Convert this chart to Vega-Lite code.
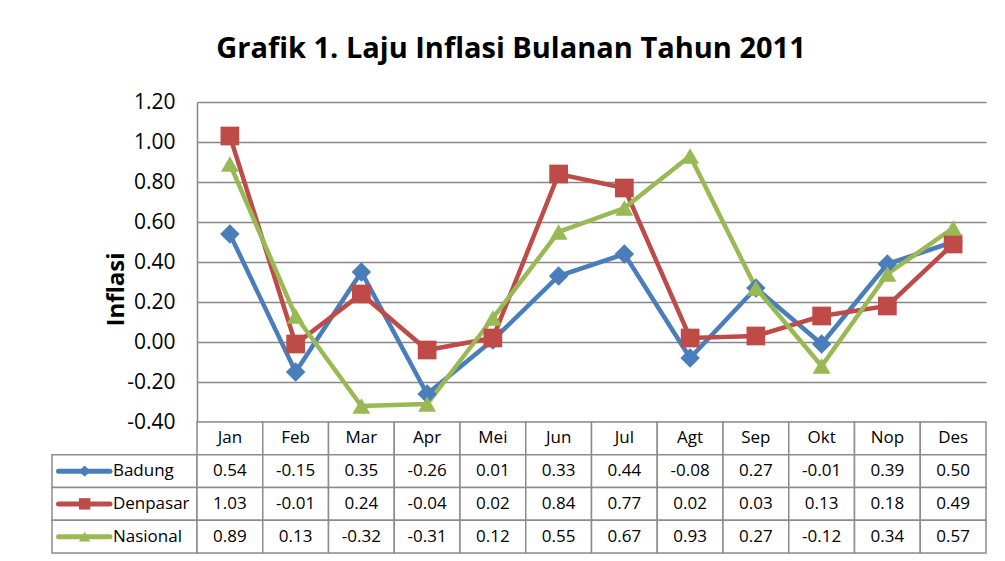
{
  "$schema": "https://vega.github.io/schema/vega-lite/v6.json",
  "background": "white",
  "padding": {"left": 51, "top": 35, "right": 18, "bottom": 6},
  "title": {"text": "Grafik 1. Laju Inflasi Bulanan Tahun 2011", "fontSize": 29, "font": "Open Sans", "fontWeight": "bold", "anchor": "middle", "offset": 27, "color": "black", "dx": -8},
  "datasets": {
    "inf": [
      {"month": "Jan", "m": 1, "series": "Badung", "value": 0.54},
      {"month": "Feb", "m": 2, "series": "Badung", "value": -0.15},
      {"month": "Mar", "m": 3, "series": "Badung", "value": 0.35},
      {"month": "Apr", "m": 4, "series": "Badung", "value": -0.26},
      {"month": "Mei", "m": 5, "series": "Badung", "value": 0.01},
      {"month": "Jun", "m": 6, "series": "Badung", "value": 0.33},
      {"month": "Jul", "m": 7, "series": "Badung", "value": 0.44},
      {"month": "Agt", "m": 8, "series": "Badung", "value": -0.08},
      {"month": "Sep", "m": 9, "series": "Badung", "value": 0.27},
      {"month": "Okt", "m": 10, "series": "Badung", "value": -0.01},
      {"month": "Nop", "m": 11, "series": "Badung", "value": 0.39},
      {"month": "Des", "m": 12, "series": "Badung", "value": 0.50},
      {"month": "Jan", "m": 1, "series": "Denpasar", "value": 1.03},
      {"month": "Feb", "m": 2, "series": "Denpasar", "value": -0.01},
      {"month": "Mar", "m": 3, "series": "Denpasar", "value": 0.24},
      {"month": "Apr", "m": 4, "series": "Denpasar", "value": -0.04},
      {"month": "Mei", "m": 5, "series": "Denpasar", "value": 0.02},
      {"month": "Jun", "m": 6, "series": "Denpasar", "value": 0.84},
      {"month": "Jul", "m": 7, "series": "Denpasar", "value": 0.77},
      {"month": "Agt", "m": 8, "series": "Denpasar", "value": 0.02},
      {"month": "Sep", "m": 9, "series": "Denpasar", "value": 0.03},
      {"month": "Okt", "m": 10, "series": "Denpasar", "value": 0.13},
      {"month": "Nop", "m": 11, "series": "Denpasar", "value": 0.18},
      {"month": "Des", "m": 12, "series": "Denpasar", "value": 0.49},
      {"month": "Jan", "m": 1, "series": "Nasional", "value": 0.89},
      {"month": "Feb", "m": 2, "series": "Nasional", "value": 0.13},
      {"month": "Mar", "m": 3, "series": "Nasional", "value": -0.32},
      {"month": "Apr", "m": 4, "series": "Nasional", "value": -0.31},
      {"month": "Mei", "m": 5, "series": "Nasional", "value": 0.12},
      {"month": "Jun", "m": 6, "series": "Nasional", "value": 0.55},
      {"month": "Jul", "m": 7, "series": "Nasional", "value": 0.67},
      {"month": "Agt", "m": 8, "series": "Nasional", "value": 0.93},
      {"month": "Sep", "m": 9, "series": "Nasional", "value": 0.27},
      {"month": "Okt", "m": 10, "series": "Nasional", "value": -0.12},
      {"month": "Nop", "m": 11, "series": "Nasional", "value": 0.34},
      {"month": "Des", "m": 12, "series": "Nasional", "value": 0.57}
    ]
  },
  "data": {"name": "inf"},
  "columns": 2,
  "spacing": 0,
  "bounds": "flush",
  "concat": [
    {
      "width": 145,
      "height": 320,
      "transform": [{"filter": "datum.m == 1 && datum.series == 'Badung'"}],
      "mark": {"type": "text", "text": ""},
      "encoding": {}
    },
    {
      "width": 789,
      "height": 320,
      "encoding": {
        "x": {"field": "month", "type": "ordinal", "sort": ["Jan","Feb","Mar","Apr","Mei","Jun","Jul","Agt","Sep","Okt","Nop","Des"], "scale": {"type": "point", "padding": 0.5}, "axis": null},
        "y": {"field": "value", "type": "quantitative", "scale": {"domain": [-0.4, 1.2], "nice": false, "zero": false},
          "axis": {"values": [-0.4, -0.2, 0, 0.2, 0.4, 0.6, 0.8, 1.0, 1.2], "format": ".2f", "labelExpr": "replace(datum.label, '\u2212', '-')", "title": "Inflasi", "titleFont": "Open Sans", "titleFontSize": 24, "titleFontWeight": "bold", "titleColor": "black", "titleX": -81, "titleY": 187, "titleAngle": -90, "titleAlign": "center", "titleBaseline": "middle",
            "labelFont": "Open Sans", "labelFontSize": 21, "labelColor": "black", "labelPadding": 22, "ticks": false, "domainColor": "#868686", "domainWidth": 1.5, "gridColor": "#868686", "gridWidth": 1.5}},
        "color": {"field": "series", "type": "nominal", "scale": {"domain": ["Badung","Denpasar","Nasional"], "range": ["#4A7EBB","#BE4B48","#98B954"]}, "legend": null}
      },
      "layer": [
        {"mark": {"type": "line", "strokeWidth": 4.5}, "encoding": {"order": {"field": "m", "type": "quantitative"}}},
        {"mark": {"type": "point", "filled": true, "opacity": 1},
          "encoding": {
            "shape": {"field": "series", "type": "nominal", "scale": {"domain": ["Badung","Denpasar","Nasional"], "range": ["diamond","square","triangle-up"]}, "legend": null},
            "size": {"field": "series", "type": "ordinal", "scale": {"domain": ["Badung","Denpasar","Nasional"], "range": [380, 320, 330]}, "legend": null}
          }}
      ]
    },
    {
      "width": 145,
      "height": 131,
      "transform": [{"filter": "datum.m == 1"}],
      "encoding": {
        "y": {"field": "series", "type": "nominal", "scale": {"domain": ["hdr","Badung","Denpasar","Nasional"], "paddingInner": 0, "paddingOuter": 0}, "axis": null}
      },
      "layer": [
        {"mark": {"type": "rect", "fill": "white", "stroke": "#8C8C8C", "strokeWidth": 1.5},
          "encoding": {"x": {"datum": 0, "type": "quantitative", "scale": {"domain": [0, 1], "nice": false, "zero": false}, "axis": null}, "x2": {"datum": 1}}},
        {"mark": {"type": "rule", "strokeWidth": 5, "strokeCap": "round"},
          "encoding": {"x": {"datum": 0.045, "type": "quantitative"}, "x2": {"datum": 0.4},
            "color": {"field": "series", "type": "nominal", "scale": {"domain": ["Badung","Denpasar","Nasional"], "range": ["#4A7EBB","#BE4B48","#98B954"]}, "legend": null}}},
        {"mark": {"type": "point", "filled": true, "opacity": 1},
          "encoding": {"x": {"datum": 0.225, "type": "quantitative"},
            "color": {"field": "series", "type": "nominal", "scale": {"domain": ["Badung","Denpasar","Nasional"], "range": ["#4A7EBB","#BE4B48","#98B954"]}, "legend": null},
            "shape": {"field": "series", "type": "nominal", "scale": {"domain": ["Badung","Denpasar","Nasional"], "range": ["diamond","square","triangle-up"]}, "legend": null},
            "size": {"value": 130}}},
        {"mark": {"type": "text", "align": "left", "baseline": "middle", "font": "Open Sans", "fontSize": 17, "color": "black"},
          "encoding": {"x": {"datum": 0.42, "type": "quantitative"}, "text": {"field": "series"}}}
      ]
    },
    {
      "width": 789,
      "height": 131,
      "encoding": {
        "x": {"field": "month", "type": "ordinal", "sort": ["Jan","Feb","Mar","Apr","Mei","Jun","Jul","Agt","Sep","Okt","Nop","Des"], "scale": {"type": "band", "paddingInner": 0, "paddingOuter": 0}, "axis": null}
      },
      "layer": [
        {"transform": [{"filter": "datum.series == 'Badung'"}],
          "mark": {"type": "rect", "fill": "white", "stroke": "#8C8C8C", "strokeWidth": 1.5},
          "encoding": {"y": {"datum": "hdr", "type": "nominal", "scale": {"domain": ["hdr","Badung","Denpasar","Nasional"], "paddingInner": 0, "paddingOuter": 0}, "axis": null}}},
        {"mark": {"type": "rect", "fill": "white", "stroke": "#8C8C8C", "strokeWidth": 1.5},
          "encoding": {"y": {"field": "series", "type": "nominal"}}},
        {"transform": [{"filter": "datum.series == 'Badung'"}],
          "mark": {"type": "text", "font": "Open Sans", "fontSize": 17, "color": "black", "baseline": "middle"},
          "encoding": {"y": {"datum": "hdr", "type": "nominal"}, "text": {"field": "month"}}},
        {"mark": {"type": "text", "font": "Open Sans", "fontSize": 17, "color": "black", "baseline": "middle", "text": {"expr": "replace(format(datum.value, '.2f'), '\u2212', '-')"}},
          "encoding": {"y": {"field": "series", "type": "nominal"}}}
      ]
    }
  ],
  "resolve": {"scale": {"x": "independent", "y": "independent"}},
  "config": {"view": {"stroke": null}, "font": "Open Sans"}
}
